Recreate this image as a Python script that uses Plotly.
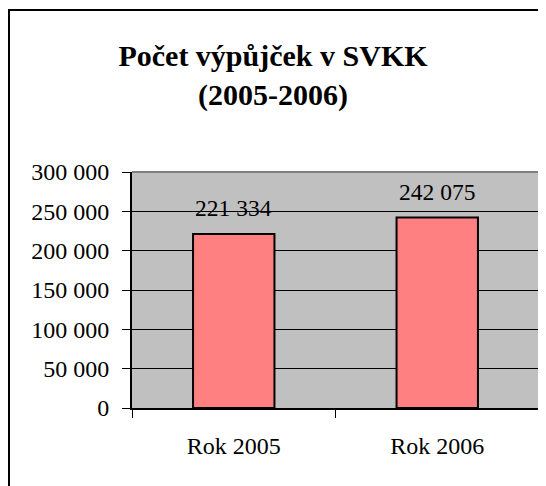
import plotly.graph_objects as go

categories = ["Rok 2005", "Rok 2006"]
values = [221334, 242075]
value_labels = ["221 334", "242 075"]
tick_vals = [0, 50000, 100000, 150000, 200000, 250000, 300000]
tick_text = ["0", "50 000", "100 000", "150 000", "200 000", "250 000", "300 000"]

W, H = 546, 486
OFF = 8  # page body margin offset
L, R, T, B = 132 - OFF, 7 + OFF, 172 - OFF, 78 + OFF
pw, ph = W - L - R, H - T - B

FONT = "Times New Roman, serif"

fig = go.Figure()
fig.add_trace(go.Bar(
    x=categories, y=values,
    marker=dict(color="#FF8080", line=dict(color="black", width=2)),
    width=0.4,
    hoverinfo="skip",
))

for c, v, t in zip(categories, values, value_labels):
    fig.add_annotation(x=c, y=v, text=t, showarrow=False, yanchor="middle",
                       yshift=26, font=dict(family=FONT, size=23.5, color="black"))

# plot-area gray top/right border
fig.add_shape(type="line", xref="paper", yref="paper", x0=0, x1=1, y0=1, y1=1,
              line=dict(color="#808080", width=2), layer="above")
fig.add_shape(type="line", xref="paper", yref="paper", x0=1, x1=1, y0=0, y1=1,
              line=dict(color="#808080", width=2), layer="above")
# outer chart border
fig.add_shape(type="rect", xref="paper", yref="paper",
              x0=(9 - OFF - L) / pw, x1=(W + 5 - L) / pw,
              y0=(T + ph - (H + 5)) / ph, y1=(T + ph - (10 - OFF)) / ph,
              line=dict(color="black", width=2), fillcolor="rgba(0,0,0,0)", layer="below")

fig.update_layout(
    width=W, height=H,
    margin=dict(l=L, r=R, t=T, b=B),
    paper_bgcolor="white",
    plot_bgcolor="#C0C0C0",
    showlegend=False,
    bargap=0.6,
    font=dict(family=FONT),
    title=dict(text="<b>Počet výpůjček v SVKK<br>(2005-2006)</b>",
               x=(273 - OFF) / W, xanchor="center", xref="container",
               y=1 - (66 - OFF) / H, yanchor="middle", yref="container",
               font=dict(family=FONT, size=30, color="black")),
    xaxis=dict(
        showline=True, linecolor="black", linewidth=2,
        ticks="outside", tickson="boundaries", ticklen=8, tickcolor="black", tickwidth=1,
        ticklabelstandoff=15,
        tickfont=dict(family=FONT, size=24, color="black"),
        showgrid=False,
    ),
    yaxis=dict(
        range=[0, 300000],
        tickvals=tick_vals, ticktext=tick_text,
        showline=True, linecolor="black", linewidth=2,
        ticks="outside", ticklen=8, tickcolor="black", tickwidth=1,
        ticklabelstandoff=8,
        tickfont=dict(family=FONT, size=24, color="black"),
        showgrid=True, gridcolor="black", gridwidth=1,
        zeroline=False,
    ),
)

fig.write_html("out.html")
